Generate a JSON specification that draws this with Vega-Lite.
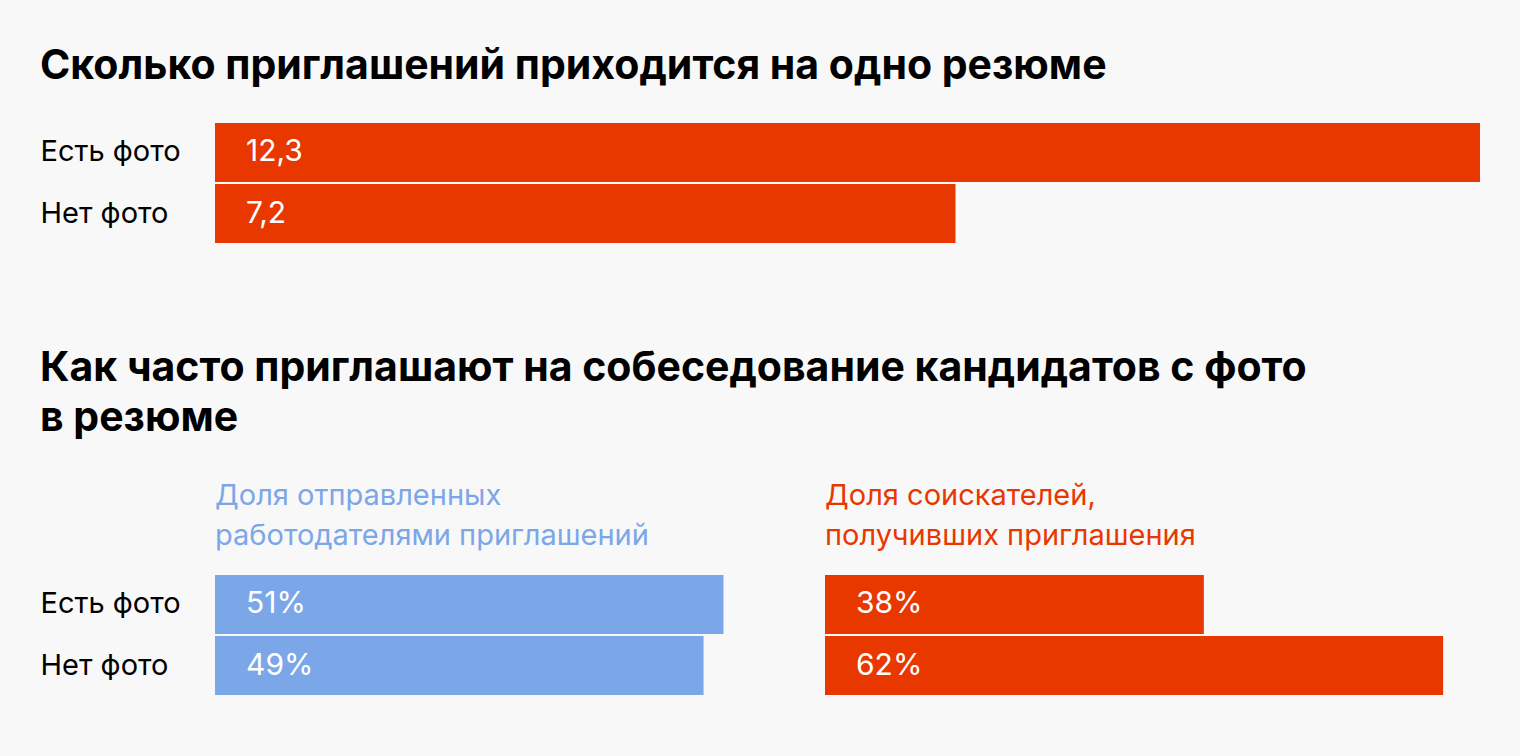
{
  "$schema": "https://vega.github.io/schema/vega-lite/v6.json",
  "background": "#f8f8f8",
  "padding": {"left": 40, "right": 40, "top": 46, "bottom": 63},
  "config": {
    "font": "Inter",
    "view": {"stroke": null},
    "axis": {"domain": false, "ticks": false, "grid": false}
  },
  "spacing": 105,
  "datasets": {
    "invites": [
      {"photo": "Есть фото", "value": 12.3, "label": "12,3"},
      {"photo": "Нет фото", "value": 7.2, "label": "7,2"}
    ],
    "employers": [
      {"photo": "Есть фото", "value": 51, "label": "51%"},
      {"photo": "Нет фото", "value": 49, "label": "49%"}
    ],
    "seekers": [
      {"photo": "Есть фото", "value": 38, "label": "38%"},
      {"photo": "Нет фото", "value": 62, "label": "62%"}
    ]
  },
  "vconcat": [
    {
      "title": {"text": "Сколько приглашений приходится на одно резюме", "anchor": "start", "frame": "bounds", "fontSize": 41, "fontWeight": "bold", "color": "#000000", "offset": 35},
      "width": 1265,
      "height": 120,
      "data": {"name": "invites"},
      "encoding": {
        "y": {"field": "photo", "type": "nominal", "sort": null, "title": null,
          "scale": {"paddingInner": 0.0333, "paddingOuter": 0},
          "axis": {"labelAlign": "left", "labelPadding": 175, "labelFontSize": 29, "labelColor": "#000000", "labelFont": "Inter"}}
      },
      "layer": [
        {"mark": {"type": "bar", "color": "#e83800"},
          "encoding": {"x": {"field": "value", "type": "quantitative", "scale": {"domain": [0, 12.3], "nice": false, "zero": true}, "axis": null}}},
        {"mark": {"type": "text", "color": "#ffffff", "align": "left", "dx": 31, "fontSize": 30},
          "encoding": {"x": {"datum": 0, "type": "quantitative"}, "text": {"field": "label"}}}
      ]
    },
    {
      "title": {"text": ["Как часто приглашают на собеседование кандидатов с фото", "в резюме"], "anchor": "start", "frame": "bounds", "fontSize": 41, "fontWeight": "bold", "color": "#000000", "lineHeight": 50, "offset": 42},
      "spacing": 30,
      "hconcat": [
        {
          "title": {"text": ["Доля отправленных", "работодателями приглашений"], "anchor": "start", "frame": "group", "fontSize": 29, "fontWeight": "normal", "color": "#7ba7e8", "lineHeight": 40, "offset": 24},
          "width": 580,
          "height": 120,
          "data": {"name": "employers"},
          "encoding": {
            "y": {"field": "photo", "type": "nominal", "sort": null, "title": null,
              "scale": {"paddingInner": 0.0333, "paddingOuter": 0},
              "axis": {"labelAlign": "left", "labelPadding": 175, "labelFontSize": 29, "labelColor": "#000000", "labelFont": "Inter"}}
          },
          "layer": [
            {"mark": {"type": "bar", "color": "#7ba7e8"},
              "encoding": {"x": {"field": "value", "type": "quantitative", "scale": {"domain": [0, 58.17], "nice": false, "zero": true}, "axis": null}}},
            {"mark": {"type": "text", "color": "#ffffff", "align": "left", "dx": 31, "fontSize": 30},
              "encoding": {"x": {"datum": 0, "type": "quantitative"}, "text": {"field": "label"}}}
          ]
        },
        {
          "title": {"text": ["Доля соискателей,", "получивших приглашения"], "anchor": "start", "frame": "group", "fontSize": 29, "fontWeight": "normal", "color": "#e83800", "lineHeight": 40, "offset": 24},
          "width": 655,
          "height": 120,
          "data": {"name": "seekers"},
          "encoding": {
            "y": {"field": "photo", "type": "nominal", "sort": null, "title": null,
              "scale": {"paddingInner": 0.0333, "paddingOuter": 0},
              "axis": null}
          },
          "layer": [
            {"mark": {"type": "bar", "color": "#e83800"},
              "encoding": {"x": {"field": "value", "type": "quantitative", "scale": {"domain": [0, 65.7], "nice": false, "zero": true}, "axis": null}}},
            {"mark": {"type": "text", "color": "#ffffff", "align": "left", "dx": 31, "fontSize": 30},
              "encoding": {"x": {"datum": 0, "type": "quantitative"}, "text": {"field": "label"}}}
          ]
        }
      ]
    }
  ]
}
